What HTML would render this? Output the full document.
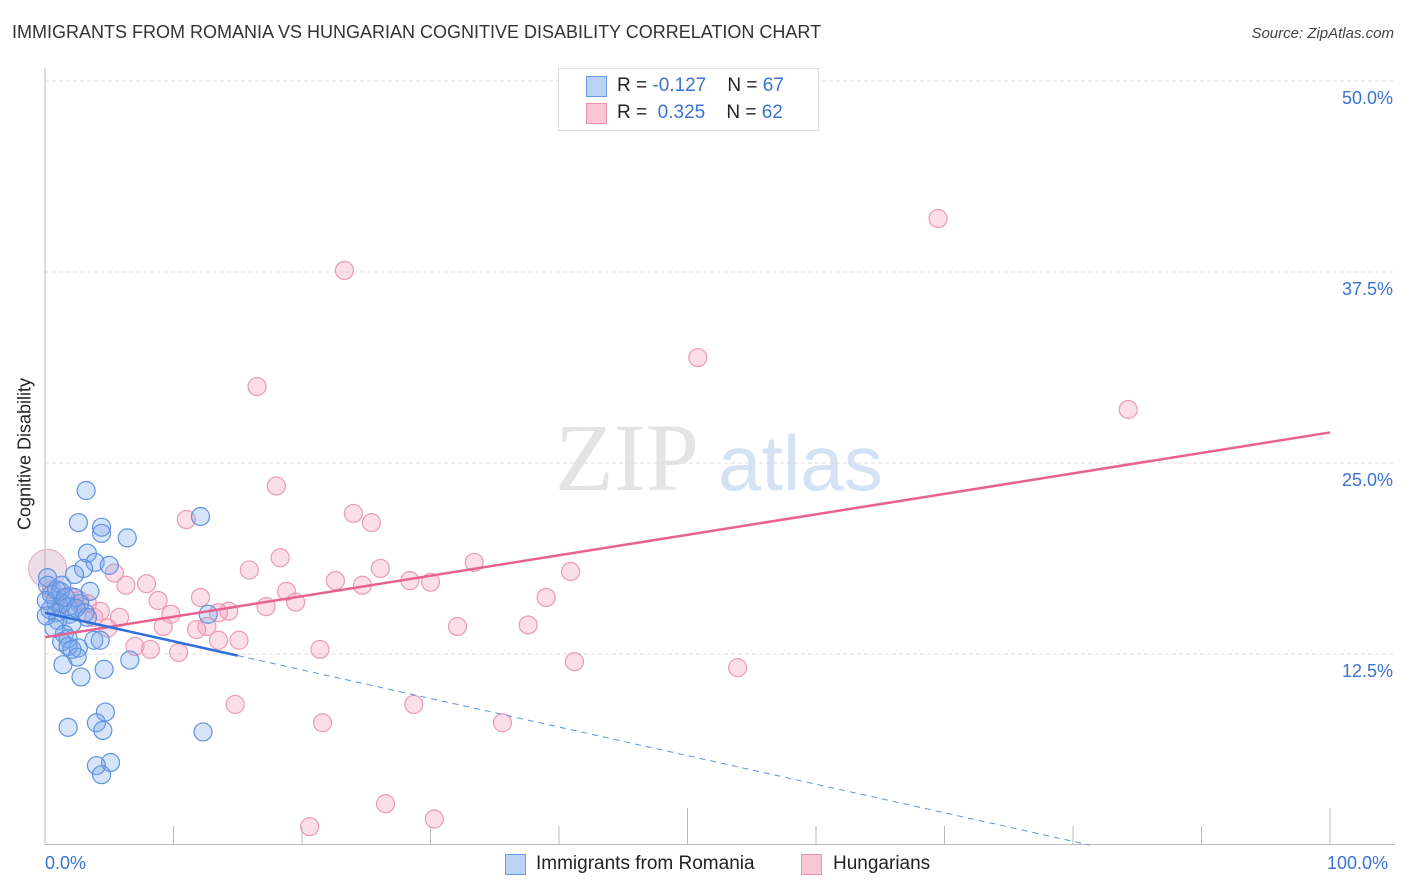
<!DOCTYPE html>
<html><head><meta charset="utf-8"><style>
body{margin:0;background:#fff;font-family:"Liberation Sans",sans-serif;}
#wrap{position:relative;width:1406px;height:892px;overflow:hidden;}
.t{position:absolute;white-space:nowrap;}
</style></head><body>
<div id="wrap">
<div class="t" style="left:12px;top:22px;font-size:18px;color:#333;">IMMIGRANTS FROM ROMANIA VS HUNGARIAN COGNITIVE DISABILITY CORRELATION CHART</div>
<div class="t" style="right:12px;top:25px;font-size:15px;color:#444;font-style:italic;">Source: ZipAtlas.com</div>
<svg id="svg" width="1406" height="892" style="position:absolute;left:0;top:0"></svg>
</div>
<script>
const blueX=[3.2,2.6,4.4,4.4,6.4,12.1,3.3,3.9,5.0,3.0,2.3,0.2,1.3,3.5,2.3,0.8,1.3,1.8,2.7,0.4,0.9,1.9,3.1,12.7,1.0,2.1,1.5,1.8,1.3,3.8,4.3,2.6,1.8,2.1,2.5,6.6,1.4,4.6,2.8,4.7,4.0,4.5,1.8,12.3,5.1,4.0,4.4,0.2,0.5,1.2,0.1,0.9,1.6,2.4,0.1,0.7,3.3];
const blueY=[23.2,21.1,20.8,20.4,20.1,21.5,19.1,18.5,18.3,18.1,17.7,17.5,17.0,16.6,16.2,16.0,15.8,15.6,15.8,15.4,15.2,15.1,15.2,15.1,14.7,14.5,13.8,13.5,13.3,13.4,13.4,12.9,13.0,12.8,12.3,12.1,11.8,11.5,11.0,8.7,8.0,7.5,7.7,7.4,5.4,5.2,4.6,17.0,16.4,16.6,16.0,16.7,16.2,15.5,15.0,14.2,14.9];
const pinkX=[69.5,23.3,50.8,84.3,16.5,18.0,24.0,25.4,11.0,18.3,33.4,15.9,26.1,40.9,5.4,22.6,7.9,28.4,30.0,24.7,6.3,18.8,39.0,12.1,8.8,19.5,17.2,3.3,4.3,14.3,9.8,13.5,5.8,3.8,9.2,12.6,32.1,37.6,4.9,11.8,13.5,15.1,7.0,8.2,10.4,21.4,41.2,53.9,14.8,28.7,21.6,35.6,26.5,30.3,20.6,1.9,2.7,1.2,0.5];
const pinkY=[41.0,37.6,31.9,28.5,30.0,23.5,21.7,21.1,21.3,18.8,18.5,18.0,18.1,17.9,17.8,17.3,17.1,17.3,17.2,17.0,17.0,16.6,16.2,16.2,16.0,15.9,15.6,15.8,15.3,15.3,15.1,15.2,14.9,14.9,14.3,14.3,14.3,14.4,14.2,14.1,13.4,13.4,13.0,12.8,12.6,12.8,12.0,11.6,9.2,9.2,8.0,8.0,2.7,1.7,1.2,16.3,16.0,15.5,16.7];
const yTicks=[12.5,25.0,37.5,50.0];
const yTickLabels=["12.5%","25.0%","37.5%","50.0%"];
const blueTrend=[15.2,-0.187];
const pinkTrend=[13.6,0.134];
const NS="http://www.w3.org/2000/svg";
const svg=document.getElementById('svg');
const X=v=>45+v*12.85, Y=v=>845-v*15.28;
function mk(tag,a,p){const e=document.createElementNS(NS,tag);for(const k in a)e.setAttribute(k,a[k]);(p||svg).appendChild(e);return e;}
// watermark
let w=mk('text',{x:555,y:490,'font-size':96,'font-family':'Liberation Serif',fill:'#e4e4e4'});w.textContent='ZIP';


let w2=mk('text',{x:718,y:490,'font-size':78,'font-family':'Liberation Sans',fill:'#d4e2f4'});w2.textContent='atlas';


yTicks.forEach((t,i)=>{
 const g=mk('line',{x1:45,x2:1395,y1:Y(t),y2:Y(t),stroke:'#ddd','stroke-dasharray':'4,3'});
 
 
 const l=mk('text',{x:1393,y:Y(t)+23,'text-anchor':'end','font-size':18,fill:'#3b73d1'});l.textContent=yTickLabels[i];
 
 
});
mk('line',{x1:45,x2:45,y1:68,y2:845,stroke:'#bbb'});
mk('line',{x1:45,x2:1395,y1:844.5,y2:844.5,stroke:'#bbb'});
for(let i=1;i<=10;i++){
 const tk=mk('line',{x1:X(i*10),x2:X(i*10),y1:(i==5||i==10)?808:826,y2:845,stroke:'#bbb'});
 
 
}
const pg=mk('g',{});
pinkX.forEach((x,i)=>{const c=mk('circle',{cx:X(x),cy:Y(pinkY[i]),r:9,fill:'rgba(244,160,188,0.35)',stroke:'#eb9ab5','stroke-width':1.2},pg);
 
 });
let big=mk('circle',{cx:X(0.2),cy:Y(18.1),r:19,fill:'rgba(200,160,190,0.35)',stroke:'#e3a8c0'},pg);


const bg=mk('g',{});
blueX.forEach((x,i)=>{const c=mk('circle',{cx:X(x),cy:Y(blueY[i]),r:9,fill:'rgba(120,165,235,0.3)',stroke:'#5f93e0','stroke-width':1.2},bg);
 
 });
const pl=mk('line',{x1:X(0),y1:Y(pinkTrend[0]),x2:X(100),y2:Y(pinkTrend[0]+pinkTrend[1]*100),stroke:'#e8628f','stroke-width':2.5});


const bl=mk('line',{x1:X(0),y1:Y(blueTrend[0]),x2:X(15),y2:Y(blueTrend[0]+blueTrend[1]*15),stroke:'#2f6fd8','stroke-width':2.5});


const xe=-blueTrend[0]/blueTrend[1];
const bd=mk('line',{x1:X(15),y1:Y(blueTrend[0]+blueTrend[1]*15),x2:X(xe),y2:Y(0),stroke:'#5f93e0','stroke-width':1,'stroke-dasharray':'6,5'});


</script>
<div class="t" style="left:45px;top:853px;font-size:18px;color:#3b73d1;">0.0%</div>
<div class="t" style="left:1327px;top:853px;font-size:18px;color:#3b73d1;">100.0%</div>
<div class="t" style="left:8px;top:455px;font-size:18px;color:#222;transform:translate(0,-50%) rotate(-90deg);transform-origin:center;left:-50px;width:150px;text-align:center;">Cognitive Disability</div>
<div style="position:absolute;left:558px;top:68px;width:259px;height:61px;border:1px solid #ddd;background:#fff;font-size:19px;">
 <div style="position:absolute;left:27px;top:7px;width:19px;height:19px;background:#b9d2f5;border:1px solid #6a9be0;"></div>
 <div class="t" style="left:58px;top:6px;color:#222;">R = <span style="color:#3b73d1">-0.127</span>&nbsp;&nbsp;&nbsp; N = <span style="color:#3b73d1">67</span></div>
 <div style="position:absolute;left:27px;top:34px;width:19px;height:19px;background:#f9c6d6;border:1px solid #e793ae;"></div>
 <div class="t" style="left:58px;top:33px;color:#222;">R = &nbsp;<span style="color:#3b73d1">0.325</span>&nbsp;&nbsp;&nbsp; N = <span style="color:#3b73d1">62</span></div>
</div>
<div style="position:absolute;left:505px;top:854px;width:19px;height:19px;background:#b9d2f5;border:1px solid #6a9be0;"></div>
<div class="t" style="left:536px;top:853px;font-size:19px;color:#222;">Immigrants from Romania</div>
<div style="position:absolute;left:801px;top:854px;width:19px;height:19px;background:#f9c6d6;border:1px solid #e793ae;"></div>
<div class="t" style="left:833px;top:853px;font-size:19px;color:#222;">Hungarians</div>
</body></html>
